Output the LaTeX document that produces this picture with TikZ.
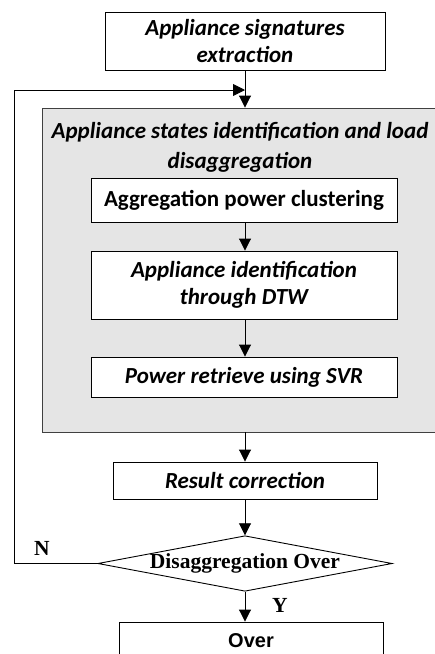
\documentclass[tikz,border=0pt]{standalone}
\usepackage{fontspec}
\newfontfamily\calibri{Carlito}
\newfontfamily\timesr{Liberation Serif}
\newfontfamily\arialr{Liberation Sans}
\usetikzlibrary{arrows.meta,shapes.geometric}
\definecolor{panelgray}{HTML}{E5E5E5}
\tikzstyle{box}=[draw=black, fill=white, rectangle, line width=0.9pt, align=center, inner sep=0pt, font=\calibri\bfseries\itshape\fontsize{23}{27}\selectfont]
\tikzstyle{decision}=[draw=black, fill=white, diamond, line width=0.9pt, inner sep=0pt, aspect=5.3, font=\timesr\bfseries\fontsize{21.5}{24}\selectfont]
\tikzstyle{tag}=[font=\timesr\bfseries\fontsize{21.5}{22}\selectfont]
\tikzstyle{arrow}=[draw=black, line width=0.9pt, ->, >={Triangle[length=12pt,width=12pt]}]

\begin{document}
\begin{tikzpicture}[x=1pt,y=-1pt]
  \useasboundingbox (0,0) rectangle (435,654);
  \begin{scope}
    \node (sig) at (245,41)[box, minimum width=280pt, minimum height=58pt] {Appliance signatures\\extraction};
    \node (dis) at (241,270)[box, fill=panelgray, draw=black!75, minimum width=398pt, minimum height=324pt] {};
    \node (title) at (240,147)[align=center, font=\calibri\bfseries\itshape\fontsize{23}{30}\selectfont] {Appliance states identification and load\\disaggregation};
    \node (clu) at (244,200.5)[box, font=\calibri\bfseries\fontsize{23}{27}\selectfont, minimum width=306pt, minimum height=44pt] {Aggregation power clustering};
    \node (dtw) at (244,285)[box, minimum width=306pt, minimum height=68pt] {Appliance identification\\through DTW};
    \node (svr) at (244,377)[box, minimum width=306pt, minimum height=40pt] {Power retrieve using SVR};
    \node (res) at (245,480.5)[box, minimum width=264pt, minimum height=37pt] {Result correction};
    \node (dec) at (245,563.5)[decision] {Disaggregation Over};
    \node (over) at (251,641)[box, font=\arialr\bfseries\fontsize{20}{22}\selectfont, minimum width=264pt, minimum height=38pt] {Over};
    \node (n) at (42,548)[tag] {N};
    \node (y) at (280,605)[tag] {Y};
    \coordinate (turn) at (14,90);
  \end{scope}
  \begin{scope}
    \draw [arrow] (sig.south) -- (sig.south |- dis.north);
    \draw [arrow] (dec.west) -| (turn) -- (sig.south |- turn);
    \draw [arrow] (clu.south -| sig) -- (dtw.north -| sig);
    \draw [arrow] (dtw.south -| sig) -- (svr.north -| sig);
    \draw [arrow] (dis.south -| sig) -- (res.north);
    \draw [arrow] (res.south) -- (dec.north);
    \draw [arrow] (dec.south) -- (dec.south |- over.north);
  \end{scope}
\end{tikzpicture}
\end{document}
